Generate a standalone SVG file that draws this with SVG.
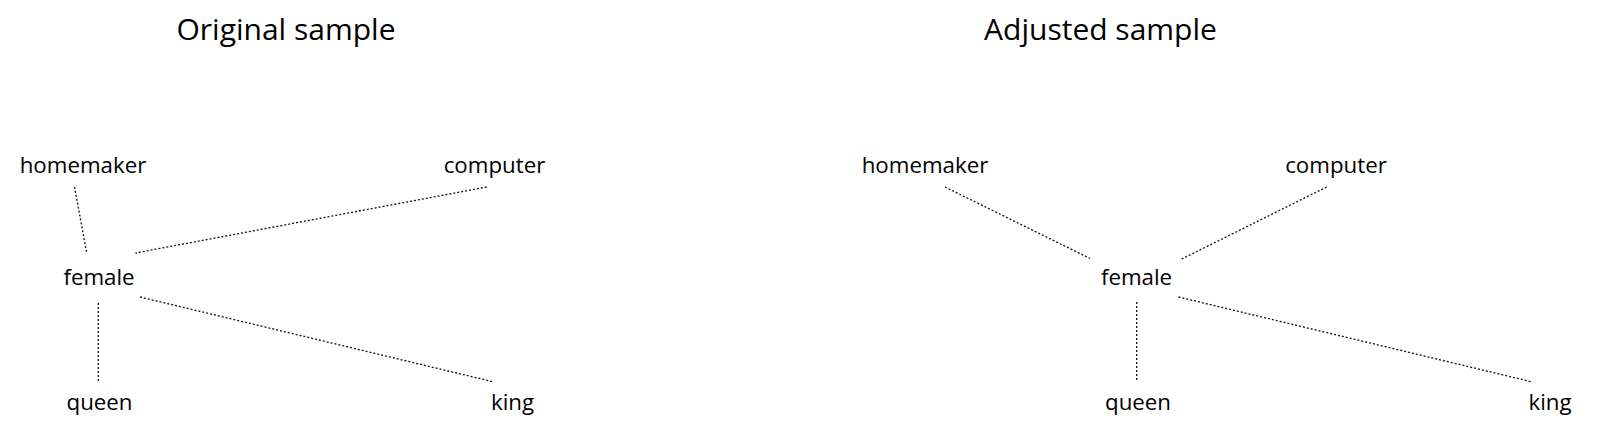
<svg xmlns="http://www.w3.org/2000/svg" width="1600" height="441" viewBox="0 0 1600 441">
<style>
.title{font-family:"Open Sans","Liberation Sans",sans-serif;font-size:30px;fill:#000;text-anchor:middle}
.lbl{font-family:"Open Sans","Liberation Sans",sans-serif;font-size:22.3px;fill:#000;text-anchor:middle}
.con{stroke:#111;stroke-width:1.3;stroke-dasharray:2 2;fill:none}
</style>
<rect width="1600" height="441" fill="#fff"/>
<text class="title" x="286" y="39.5">Original sample</text>
<text class="title" x="1100.5" y="39.5">Adjusted sample</text>
<g id="connectors">
<line class="con" x1="74.5" y1="187" x2="86.7" y2="253"/>
<line class="con" x1="486.7" y1="187" x2="135.5" y2="253"/>
<line class="con" x1="98.3" y1="303" x2="98.3" y2="382"/>
<line class="con" x1="140" y1="297" x2="494" y2="382"/>
<line class="con" x1="945" y1="187" x2="1090" y2="258.5"/>
<line class="con" x1="1326.7" y1="187" x2="1181.7" y2="259"/>
<line class="con" x1="1136.7" y1="302" x2="1136.7" y2="382"/>
<line class="con" x1="1178.5" y1="297" x2="1532.5" y2="382"/>
</g>
<g id="l-homemaker"><text class="lbl" x="83" y="173">homemaker</text></g>
<g id="l-computer"><text class="lbl" x="494.5" y="173">computer</text></g>
<g id="l-female"><text class="lbl" x="99" y="284.5">female</text></g>
<g id="l-queen"><text class="lbl" x="99.5" y="409.5">queen</text></g>
<g id="l-king"><text class="lbl" x="512.5" y="409.5">king</text></g>
<g id="r-homemaker"><text class="lbl" x="925" y="173">homemaker</text></g>
<g id="r-computer"><text class="lbl" x="1336" y="173">computer</text></g>
<g id="r-female"><text class="lbl" x="1136.5" y="284.5">female</text></g>
<g id="r-queen"><text class="lbl" x="1138" y="409.5">queen</text></g>
<g id="r-king"><text class="lbl" x="1550" y="409.5">king</text></g>
</svg>
